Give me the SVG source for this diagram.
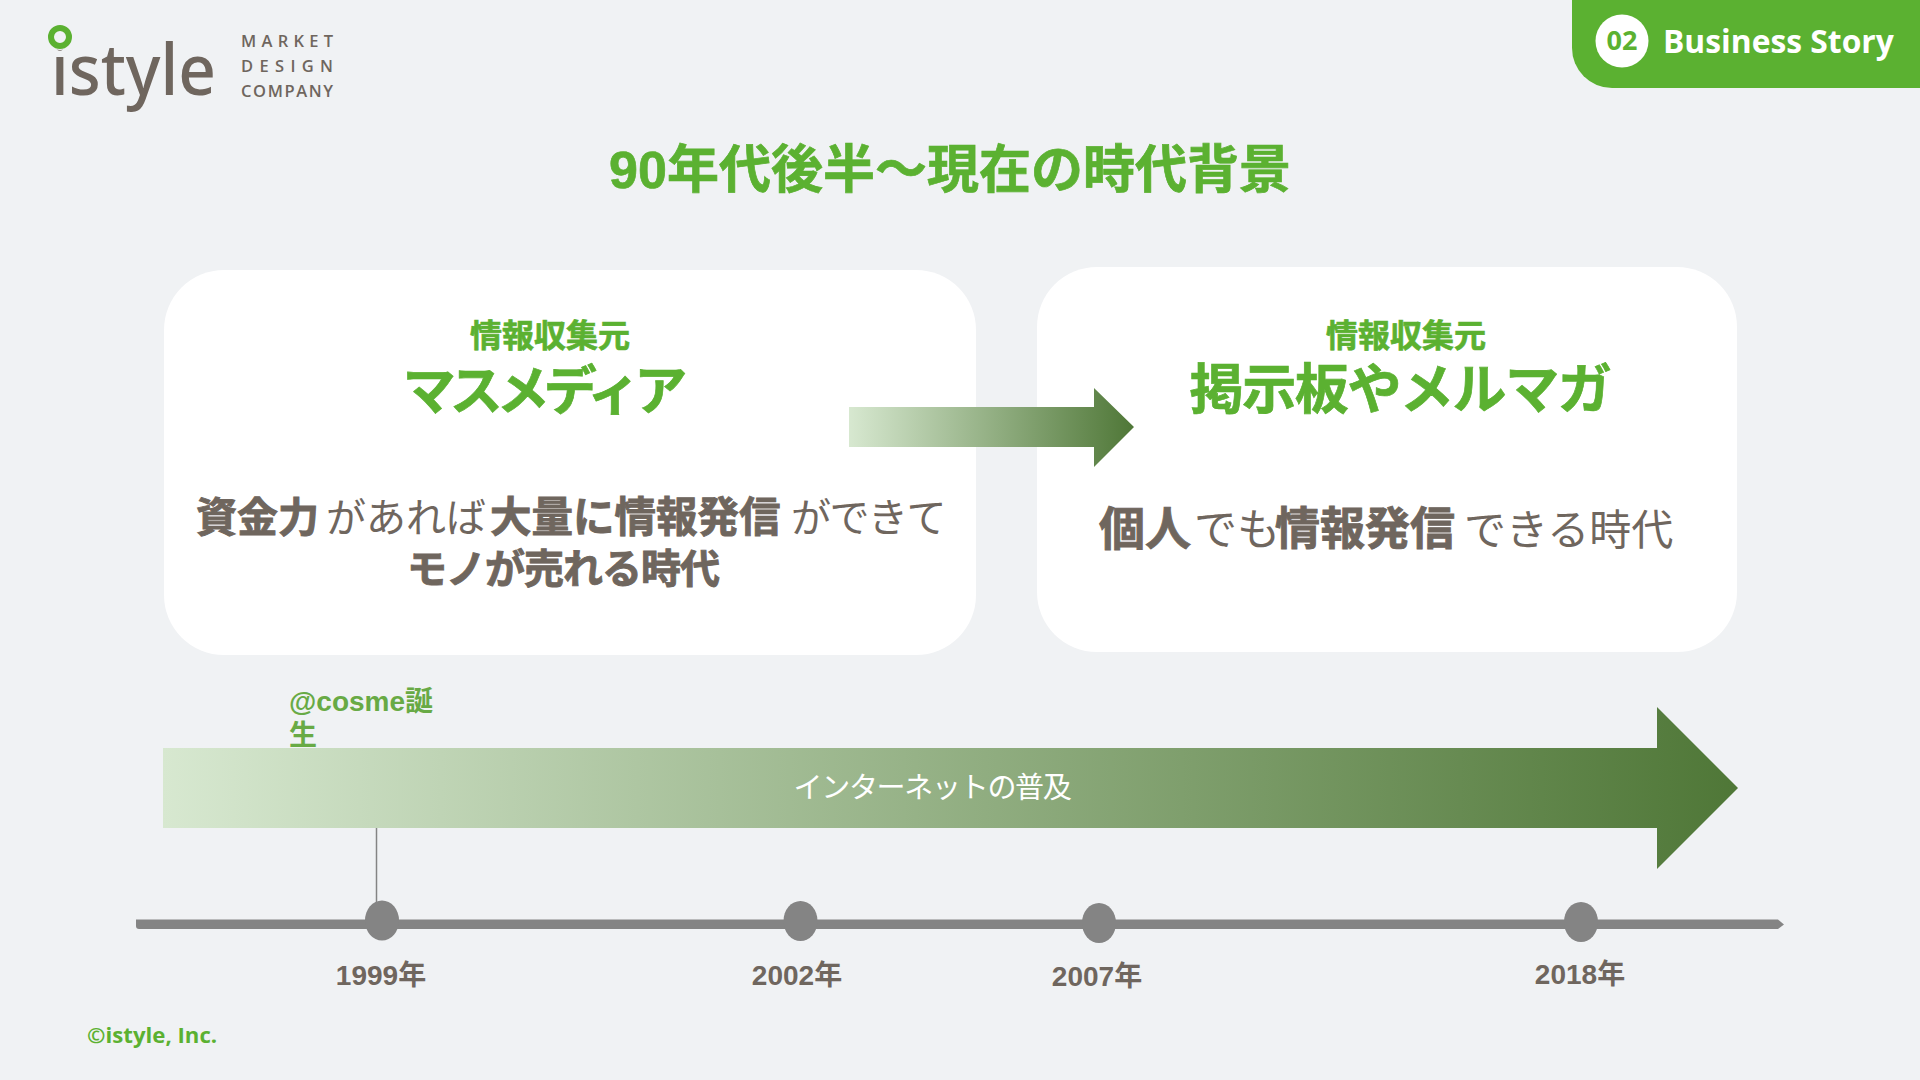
<svg xmlns="http://www.w3.org/2000/svg" width="1920" height="1080" viewBox="0 0 1920 1080">
<style>
text{font-family:"Liberation Sans","Noto Sans CJK JP",sans-serif}
.g{fill:#5bb131;font-weight:700;stroke:#5bb131;stroke-width:.7px}
.b{fill:#6f665e;font-weight:700;stroke:#6f665e;stroke-width:.9px}
.n{fill:#6f665e}
.y{fill:#6f665e;font-weight:700;font-size:28px;text-anchor:middle}
.m{fill:#6f665e;font-family:"Open Sans",sans-serif;font-weight:600;font-size:16.5px}
.dot{fill:#848484}
</style>
<defs>
<linearGradient id="ga" x1="0" x2="1" y1="0" y2="0"><stop offset="0" stop-color="#d7e8d0"/><stop offset="1" stop-color="#4f7737"/></linearGradient>
</defs>
<rect width="1920" height="1080" fill="#f0f2f4"/>
<g id="logo">
<text x="51" y="95" style="font-family:'Noto Sans',sans-serif;font-weight:500" font-size="70" fill="#6f665e" textLength="165" lengthAdjust="spacingAndGlyphs">istyle</text>
<circle cx="60" cy="37" r="13" fill="#f0f2f4"/><circle cx="60" cy="37" r="9" fill="none" stroke="#5bb131" stroke-width="6"/>
<text class="m" x="241" y="47" textLength="92">MARKET</text>
<text class="m" x="241" y="72" textLength="92">DESIGN</text>
<text class="m" x="241" y="97" textLength="92">COMPANY</text>
</g>
<g id="badge">
<path d="M1572 0H1920V88H1612A40 40 0 0 1 1572 48Z" fill="#5bb131"/>
<circle cx="1622" cy="41" r="26.5" fill="#fff"/>
<text x="1622" y="50" text-anchor="middle" style="font-family:'Open Sans',sans-serif" font-weight="700" font-size="27" fill="#5bb131">02</text>
<text x="1663" y="53" style="font-family:'Open Sans',sans-serif" font-weight="700" font-size="31.800" fill="#fff">Business Story</text>
</g>
<text id="title" class="g" x="950" y="188" text-anchor="middle" font-size="52">90年代後半～現在の時代背景</text>
<g id="card-left">
<rect x="164" y="270" width="812" height="385" rx="60" fill="#fff"/>
<text class="g" x="550" y="347" text-anchor="middle" font-size="32">情報収集元</text>
<text class="g" x="542" y="410" text-anchor="middle" font-size="53" letter-spacing="-6">マスメディア</text>
<text y="532" font-size="40" class="n"><tspan class="b" x="196" font-size="41">資金力</tspan><tspan x="326">があれば</tspan><tspan class="b" x="490" font-size="41.500">大量に情報発信</tspan><tspan x="791" letter-spacing="-1.500">ができて</tspan></text>
<text class="b" x="563" y="583" text-anchor="middle" font-size="40" letter-spacing="-1">モノが売れる時代</text>
</g>
<g id="card-right">
<rect x="1037" y="267" width="700" height="385" rx="60" fill="#fff"/>
<text class="g" x="1406" y="347" text-anchor="middle" font-size="32">情報収集元</text>
<text class="g" x="1400" y="409" text-anchor="middle" font-size="54" letter-spacing="-1.400">掲示板やメルマガ</text>
<text y="545" font-size="43" class="n"><tspan class="b" x="1099" font-size="46">個人</tspan><tspan x="1194">でも</tspan><tspan class="b" x="1275" font-size="45">情報発信</tspan><tspan x="1464" font-size="42">できる時代</tspan></text>
</g>
<g id="connectors">
<path d="M849 407H1094V388L1134 427L1094 467V447H849Z" fill="url(#ga)"/>
<path d="M163 748H1657V707L1738 788L1657 869V828H163Z" fill="url(#ga)"/>
<line x1="376.500" y1="828" x2="376.500" y2="905" stroke="#848484" stroke-width="1.500"/>
<path d="M136 919.500H1778L1784 924.500L1778 929H139Q136 929 136 926Z" fill="#848484"/>
</g>
<text id="cosme" x="289" y="711" font-size="28" font-weight="700" fill="#68aa45">@cosme誕<tspan x="289" dy="34">生</tspan></text>
<text id="internet" x="932" y="798" text-anchor="middle" font-size="29" letter-spacing="-1.300" fill="#fff">インターネットの普及</text>
<g id="y1999"><ellipse class="dot" cx="382" cy="920.500" rx="17" ry="20"/><text class="y" x="381" y="985">1999年</text></g>
<g id="y2002"><ellipse class="dot" cx="800.500" cy="921" rx="17" ry="20"/><text class="y" x="797" y="985">2002年</text></g>
<g id="y2007"><ellipse class="dot" cx="1099" cy="923" rx="17" ry="20"/><text class="y" x="1097" y="986">2007年</text></g>
<g id="y2018"><ellipse class="dot" cx="1581" cy="922" rx="17" ry="20"/><text class="y" x="1580" y="984">2018年</text></g>
<text id="copy" x="87" y="1043" style="font-family:'Open Sans',sans-serif" font-weight="700" font-size="22.200" fill="#5bb131">©istyle, Inc.</text>
</svg>
